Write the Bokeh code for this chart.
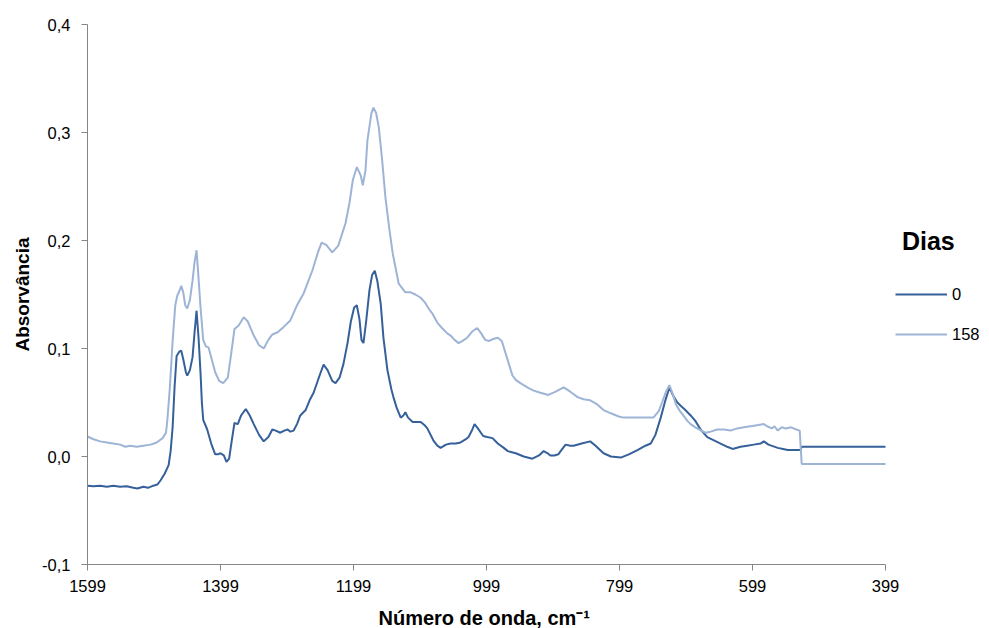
from bokeh.plotting import figure
from bokeh.models import (Range1d, FixedTicker, CustomJSTickFormatter, Legend,
                          LegendItem, Title)
from bokeh.embed import file_html
from bokeh.resources import INLINE

# FTIR spectra: wavenumber (cm-1) vs absorbance, day 0 and day 158
wn_0 = [1599, 1590, 1580, 1570, 1560, 1550, 1540, 1530, 1524, 1515, 1508, 1500,
        1494, 1489, 1483, 1477, 1474, 1471, 1468, 1465, 1461, 1458, 1455, 1451,
        1449, 1445, 1441, 1438, 1435, 1432, 1429, 1427, 1425, 1419, 1413, 1407,
        1403, 1399, 1394, 1390, 1386, 1382, 1378, 1373, 1368, 1361, 1355, 1349,
        1341, 1334, 1327, 1321, 1316, 1309, 1303, 1298, 1294, 1289, 1284, 1279,
        1271, 1265, 1259, 1250, 1244, 1238, 1231, 1226, 1220, 1214, 1208, 1203,
        1198, 1194, 1190, 1187, 1184, 1180, 1175, 1171, 1167, 1163, 1158, 1154,
        1148, 1142, 1139, 1134, 1128, 1124, 1121, 1117, 1110, 1104, 1098, 1092,
        1088, 1079, 1073, 1068, 1060, 1053, 1045, 1038, 1030, 1026, 1021, 1017,
        1012, 1004, 998, 990, 982, 973, 967, 955, 943, 930, 920, 913, 907, 903,
        897, 891, 885, 880, 873, 868, 856, 843, 835, 823, 812, 797, 785, 772,
        760, 752, 745, 737, 730, 724, 718, 712, 707, 700, 692, 685, 677, 667,
        657, 647, 637, 629, 617, 607, 597, 587, 582, 575, 561, 553, 546, 537,
        527, 525, 399]
abs_0 = [-0.027, -0.0275, -0.027, -0.028, -0.027, -0.028, -0.0275, -0.029, -0.0296,
         -0.028, -0.029, -0.027, -0.026, -0.022, -0.016, -0.008, 0.005, 0.027,
         0.065, 0.093, 0.097, 0.098, 0.090, 0.078, 0.075, 0.080, 0.092, 0.115,
         0.135, 0.110, 0.077, 0.050, 0.034, 0.025, 0.012, 0.002, 0.002, 0.003,
         0.001, -0.005, -0.002, 0.015, 0.031, 0.030, 0.038, 0.044, 0.038, 0.030,
         0.020, 0.014, 0.018, 0.025, 0.024, 0.022, 0.024, 0.025, 0.023, 0.024,
         0.030, 0.038, 0.043, 0.052, 0.059, 0.075, 0.085, 0.080, 0.070, 0.068,
         0.073, 0.086, 0.105, 0.125, 0.138, 0.140, 0.127, 0.108, 0.105, 0.125,
         0.154, 0.168, 0.172, 0.162, 0.141, 0.110, 0.080, 0.062, 0.055, 0.045,
         0.036, 0.038, 0.041, 0.036, 0.032, 0.032, 0.032, 0.029, 0.026, 0.015,
         0.010, 0.008, 0.011, 0.012, 0.012, 0.013, 0.016, 0.018, 0.024, 0.030,
         0.026, 0.019, 0.018, 0.017, 0.012, 0.008, 0.005, 0.003, 0.000, -0.002,
         0.001, 0.005, 0.003, 0.001, 0.001, 0.002, 0.007, 0.011, 0.010, 0.010,
         0.012, 0.014, 0.010, 0.003, 0.000, -0.001, 0.002, 0.006, 0.010, 0.012,
         0.020, 0.036, 0.052, 0.064, 0.056, 0.050, 0.047, 0.043, 0.038, 0.033,
         0.025, 0.018, 0.015, 0.012, 0.009, 0.007, 0.009, 0.010, 0.011, 0.012,
         0.014, 0.011, 0.008, 0.007, 0.006, 0.006, 0.006, 0.009, 0.009]

wn_158 = [1599, 1590, 1580, 1570, 1560, 1550, 1542, 1535, 1525, 1515, 1504, 1495,
          1486, 1481, 1479, 1475, 1471, 1467, 1464, 1461, 1458, 1455, 1452, 1449,
          1445, 1441, 1438, 1435, 1432, 1429, 1425, 1421, 1417, 1413, 1407, 1401,
          1395, 1388, 1383, 1378, 1372, 1364, 1358, 1349, 1341, 1334, 1327, 1321,
          1313, 1304, 1294, 1284, 1274, 1261, 1253, 1247, 1240, 1231, 1222, 1211,
          1205, 1200, 1194, 1188, 1185, 1181, 1178, 1172, 1169, 1165, 1161, 1156,
          1151, 1145, 1140, 1131, 1121, 1113, 1106, 1098, 1092, 1086, 1080, 1073,
          1066, 1058, 1053, 1047, 1041, 1035, 1028, 1020, 1013, 1007, 1001, 995,
          988, 982, 976, 970, 964, 960, 955, 948, 943, 935, 928, 918, 906, 895,
          883, 873, 862, 853, 843, 832, 823, 812, 800, 793, 782, 770, 757, 748,
          740, 735, 729, 724, 719, 714, 708, 703, 697, 692, 685, 679, 670, 662,
          652, 642, 632, 622, 612, 602, 592, 582, 577, 570, 566, 561, 555, 549,
          541, 533, 528, 525, 399]
abs_158 = [0.0185, 0.016, 0.014, 0.013, 0.012, 0.011, 0.009, 0.010, 0.009, 0.010,
           0.011, 0.013, 0.017, 0.022, 0.033, 0.065, 0.107, 0.140, 0.149, 0.153,
           0.158, 0.152, 0.140, 0.137, 0.145, 0.163, 0.180, 0.191, 0.165, 0.138,
           0.108, 0.102, 0.101, 0.092, 0.078, 0.070, 0.068, 0.073, 0.095, 0.118,
           0.121, 0.129, 0.125, 0.112, 0.103, 0.100, 0.108, 0.113, 0.115, 0.120,
           0.126, 0.140, 0.151, 0.172, 0.188, 0.198, 0.196, 0.189, 0.195, 0.216,
           0.235, 0.256, 0.268, 0.260, 0.251, 0.265, 0.293, 0.318, 0.323, 0.318,
           0.305, 0.275, 0.240, 0.210, 0.188, 0.160, 0.152, 0.152, 0.150, 0.147,
           0.143, 0.137, 0.132, 0.124, 0.119, 0.114, 0.112, 0.108, 0.105, 0.107,
           0.110, 0.116, 0.119, 0.114, 0.108, 0.107, 0.109, 0.110, 0.107, 0.095,
           0.083, 0.075, 0.071, 0.068, 0.066, 0.063, 0.061, 0.059, 0.057, 0.060,
           0.064, 0.060, 0.055, 0.053, 0.052, 0.048, 0.043, 0.040, 0.037, 0.036,
           0.036, 0.036, 0.036, 0.036, 0.042, 0.050, 0.060, 0.066, 0.058, 0.048,
           0.042, 0.038, 0.033, 0.030, 0.027, 0.025, 0.022, 0.023, 0.025, 0.025,
           0.024, 0.026, 0.027, 0.028, 0.029, 0.030, 0.028, 0.026, 0.028, 0.024,
           0.027, 0.026, 0.027, 0.025, 0.024, -0.007, -0.007]

x_ticks = [1599, 1399, 1199, 999, 799, 599, 399]
y_ticks = [-0.1, 0.0, 0.1, 0.2, 0.3, 0.4]

FONT = "Liberation Sans"
AXIS_GREY = "#868686"

# The plotting frame runs to the right edge so the legend can sit beside the
# spectra; the x axis itself is bounded to 1599..399 cm-1.
W, H = 989, 628
LEFT, TOP, BOTTOM = 87, 24, 64
AXIS_PX = 798                      # pixel length of the 1599..399 axis
x_far = 1599 - (W - LEFT) * (1599 - 399) / AXIS_PX

p = figure(width=W, height=H, output_backend="svg", toolbar_location=None,
           x_range=Range1d(1599, x_far), y_range=Range1d(-0.1, 0.4),
           min_border_left=LEFT, min_border_right=0, min_border_top=TOP,
           min_border_bottom=BOTTOM)
p.outline_line_color = None
p.xgrid.visible = False
p.ygrid.visible = False
p.background_fill_color = "white"
p.border_fill_color = "white"

r0 = p.line(wn_0, abs_0, line_color="#36609A", line_width=2)
r158 = p.line(wn_158, abs_158, line_color="#9DB4D6", line_width=2)

for ax in (p.xaxis[0], p.yaxis[0]):
    ax.axis_line_color = AXIS_GREY
    ax.major_tick_line_color = AXIS_GREY
    ax.minor_tick_line_color = None
    ax.major_tick_in = 0
    ax.major_tick_out = 6
    ax.major_label_text_font = FONT
    ax.major_label_text_font_size = "16.5px"
    ax.major_label_text_color = "#000000"
    ax.axis_label_text_font = FONT
    ax.axis_label_text_font_style = "bold"
    ax.axis_label_text_color = "#000000"

p.xaxis.bounds = (399, 1599)
p.xaxis.ticker = FixedTicker(ticks=x_ticks)
p.yaxis.ticker = FixedTicker(ticks=y_ticks)
p.yaxis.formatter = CustomJSTickFormatter(
    code="return tick.toFixed(1).replace('.', ',');")
p.xaxis.major_label_standoff = 9
p.yaxis.major_label_standoff = 11
p.yaxis.axis_label = "Absorvância"
p.yaxis.axis_label_text_font_size = "19px"
p.yaxis.axis_label_standoff = 6
# a blank, tiny x-axis label only reserves a little room under the tick labels
p.xaxis.axis_label = " "
p.xaxis.axis_label_text_font_size = "2px"
p.xaxis.axis_label_standoff = 5

# x axis title, centred under the bounded axis rather than the whole frame
x_title = Title(text="Número de onda, cm⁻¹", align="left", offset=291,
                text_font=FONT, text_font_size="20px", text_font_style="bold",
                text_color="#000000", standoff=0, vertical_align="bottom")
p.add_layout(x_title, "below")

legend = Legend(items=[LegendItem(label="0", renderers=[r0]),
                       LegendItem(label="158", renderers=[r158])],
                title="\u00a0Dias", location=(808, 220),
                title_text_font=FONT, title_text_font_size="25px",
                title_text_font_style="bold", title_text_color="#000000",
                title_standoff=28,
                label_text_font=FONT, label_text_font_size="16.5px",
                label_text_color="#000000",
                glyph_width=52, glyph_height=20, label_standoff=5,
                spacing=20, padding=0, margin=0,
                border_line_color=None, background_fill_alpha=0)
p.add_layout(legend, "center")

open("out.html", "w").write(file_html(p, INLINE))
